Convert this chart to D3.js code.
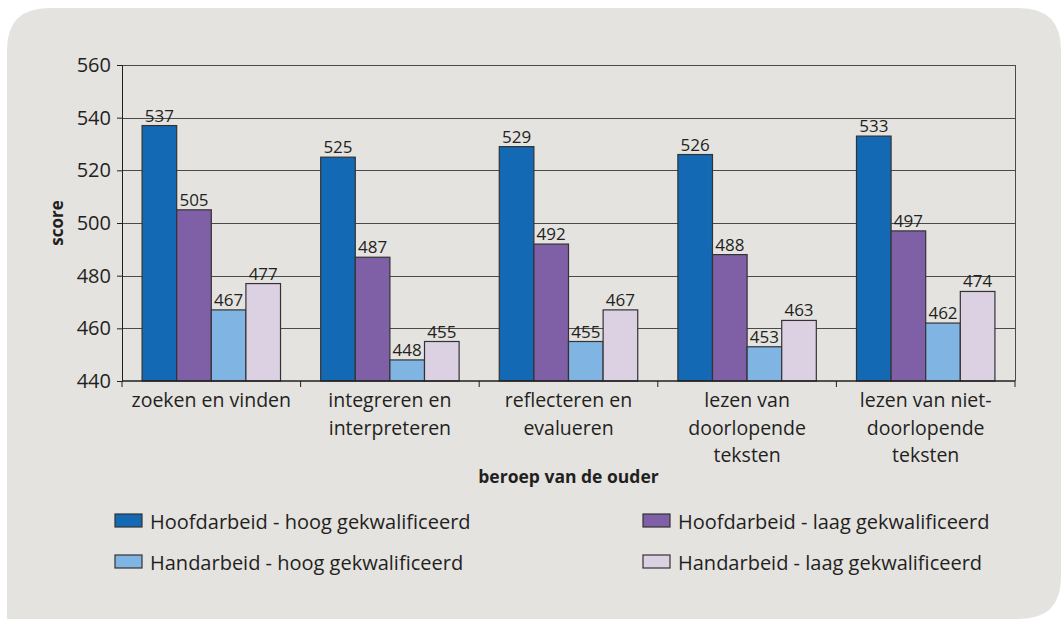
<!DOCTYPE html>
<html>
<head>
<meta charset="utf-8">
<script src="https://cdn.jsdelivr.net/npm/d3@7"></script>
<style>
  body { margin: 0; background: #fff; }
  text { font-family: "Open Sans", "Noto Sans", sans-serif; fill: #231f20; }
</style>
</head>
<body>
<div id="chart"></div>
<script>
// categorieen (leesvaardigheden), elk met meerdere regels tekst
var categories = [
  ["zoeken en vinden"],
  ["integreren en", "interpreteren"],
  ["reflecteren en", "evalueren"],
  ["lezen van", "doorlopende", "teksten"],
  ["lezen van niet-", "doorlopende", "teksten"]
];
var series = [
  "Hoofdarbeid - hoog gekwalificeerd",
  "Hoofdarbeid - laag gekwalificeerd",
  "Handarbeid - hoog gekwalificeerd",
  "Handarbeid - laag gekwalificeerd"
];
var hoofdHoog = [537, 525, 529, 526, 533];
var hoofdLaag = [505, 487, 492, 488, 497];
var handHoog = [467, 448, 455, 453, 462];
var handLaag = [477, 455, 467, 463, 474];
var yTicks = [440, 460, 480, 500, 520, 540, 560];

var kleuren = ["#1469b4", "#7f5fa6", "#80b4e2", "#dcd0e3"];
var values = [hoofdHoog, hoofdLaag, handHoog, handLaag];

var width = 1061, height = 619;
var m = { left: 122, right: 1015, top: 65, bottom: 381 };

var svg = d3.select("#chart").append("svg")
  .attr("width", width).attr("height", height);

// achtergrond met afgeronde hoeken (niet linksonder)
var r = 42, x0 = 7, y0 = 8, x1 = 1061;
svg.append("path")
  .attr("d", "M" + x0 + "," + (y0 + r) + " Q" + x0 + "," + y0 + " " + (x0 + r) + "," + y0 +
    " L" + (x1 - r) + "," + y0 + " Q" + x1 + "," + y0 + " " + x1 + "," + (y0 + r) +
    " L" + x1 + "," + (619 - r) + " Q" + x1 + "," + 619 + " " + (x1 - r) + "," + 619 +
    " L" + x0 + "," + 619 + " Z")
  .attr("fill", "#e4e3e0");

var x = d3.scaleBand().domain(d3.range(categories.length)).range([m.left, m.right]);
var xs = d3.scaleBand().domain(d3.range(series.length)).range([0, x.bandwidth()])
  .paddingOuter(0.58);
var y = d3.scaleLinear().domain([440, 560]).range([m.bottom, m.top]);

// rasterlijnen
svg.append("g").selectAll("line").data(yTicks.slice(1)).enter().append("line")
  .attr("x1", m.left).attr("x2", m.right)
  .attr("y1", function (d) { return Math.round(y(d)) + 0.5; })
  .attr("y2", function (d) { return Math.round(y(d)) + 0.5; })
  .attr("stroke", "#4a4a4a").attr("stroke-width", 1);
svg.append("line").attr("x1", m.right + 0.5).attr("x2", m.right + 0.5)
  .attr("y1", m.top).attr("y2", m.bottom).attr("stroke", "#4a4a4a");

// balken
var groups = svg.append("g").selectAll("g").data(values).enter().append("g")
  .attr("fill", function (d, i) { return kleuren[i]; });
groups.each(function (vals, si) {
  var g = d3.select(this);
  g.selectAll("rect").data(vals).enter().append("rect")
    .attr("x", function (d, ci) { return x(ci) + xs(si); })
    .attr("y", function (d) { return y(d); })
    .attr("width", xs.bandwidth())
    .attr("height", function (d) { return y(440) - y(d); })
    .attr("stroke", "#333").attr("stroke-width", 1.2);
  g.selectAll("text").data(vals).enter().append("text")
    .attr("x", function (d, ci) { return x(ci) + xs(si) + xs.bandwidth() / 2; })
    .attr("y", function (d) { return y(d) - 4; })
    .attr("text-anchor", "middle").style("font-size", "17px")
    .text(function (d) { return d; });
});

// y-as
var yAxis = svg.append("g").attr("transform", "translate(" + m.left + ",0)")
  .call(d3.axisLeft(y).tickValues(yTicks).tickSize(5).tickPadding(6));
yAxis.select(".domain").attr("stroke", "#231f20");
yAxis.selectAll(".tick line").attr("stroke", "#231f20");
yAxis.selectAll("text").style("font-size", "20px").attr("fill", "#231f20");

// x-as
var xAxisG = svg.append("g").attr("transform", "translate(0," + m.bottom + ")");
xAxisG.append("line").attr("x1", m.left).attr("x2", m.right)
  .attr("stroke", "#231f20").attr("stroke-width", 1.5);
xAxisG.selectAll(".t").data(d3.range(categories.length + 1)).enter().append("line")
  .attr("x1", function (i) { return m.left + i * x.step(); })
  .attr("x2", function (i) { return m.left + i * x.step(); })
  .attr("y1", 0).attr("y2", 6).attr("stroke", "#231f20");
xAxisG.selectAll("text.cat").data(categories).enter().append("text")
  .attr("class", "cat")
  .attr("text-anchor", "middle").style("font-size", "19.5px")
  .each(function (lines, i) {
    var t = d3.select(this);
    lines.forEach(function (l, j) {
      t.append("tspan").attr("x", x(i) + x.bandwidth() / 2).attr("y", 26 + j * 27.7).text(l);
    });
  });

// astitels
svg.append("text").attr("x", (m.left + m.right) / 2).attr("y", 483)
  .attr("text-anchor", "middle").style("font-size", "17.5px").style("font-weight", "bold")
  .text("beroep van de ouder");
svg.append("text").attr("transform", "translate(63," + (m.top + m.bottom) / 2 + ") rotate(-90)")
  .attr("text-anchor", "middle").style("font-size", "17px").style("font-weight", "bold")
  .text("score");

// legenda
var legPos = [[115, 514], [643, 514], [115, 555], [643, 555]];
var leg = svg.append("g").selectAll("g").data(series).enter().append("g")
  .attr("transform", function (d, i) { return "translate(" + legPos[i][0] + "," + legPos[i][1] + ")"; });
leg.append("rect").attr("width", 27).attr("height", 13)
  .attr("fill", function (d, i) { return kleuren[i]; })
  .attr("stroke", "#333").attr("stroke-width", 1.2);
leg.append("text").attr("x", 35).attr("y", 15).style("font-size", "20px")
  .text(function (d) { return d; });
</script>
</body>
</html>
